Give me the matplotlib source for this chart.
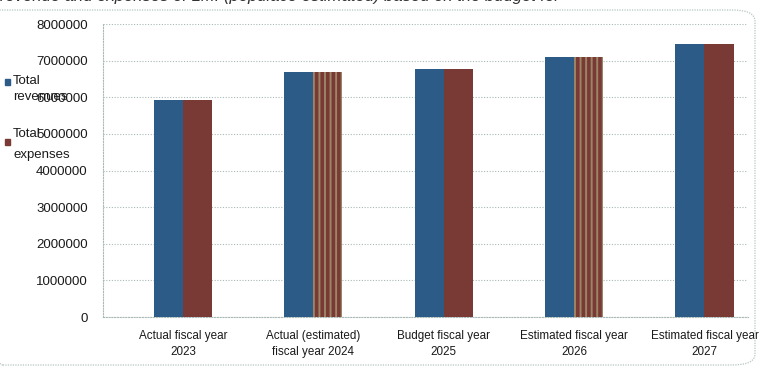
import matplotlib
matplotlib.use('Agg')
import matplotlib.pyplot as plt
from matplotlib.patches import FancyBboxPatch, Rectangle
import numpy as np

plt.rcParams['font.family'] = ['Liberation Sans', 'DejaVu Sans']
plt.rcParams['hatch.linewidth'] = 1.4

categories = ['Actual fiscal year\n2023', 'Actual (estimated)\nfiscal year 2024',
              'Budget fiscal year\n2025', 'Estimated fiscal year\n2026',
              'Estimated fiscal year\n2027']
revenues = [5920000, 6680000, 6770000, 7090000, 7450000]
expenses = [5920000, 6700000, 6770000, 7100000, 7450000]
yticks = [0, 1000000, 2000000, 3000000, 4000000, 5000000, 6000000, 7000000, 8000000]

rev_color = '#2c5b88'
exp_color = '#793934'
grid_color = '#a9b9b6'
text_color = '#1a1a1a'

fig = plt.figure(figsize=(7.6, 3.68), dpi=100)
ax = fig.add_axes([103 / 760, 51 / 368, 645 / 760, 293 / 368])

x = np.arange(len(categories))
w = 0.223
ax.bar(x - w / 2, revenues, w, color=rev_color, lw=0, zorder=3)
bars = ax.bar(x + w / 2, expenses, w, color=exp_color, lw=0, zorder=3)
# scanned stripe pattern on two of the expense bars
for i in (1, 3):
    bars[i].set_hatch('|||')
    bars[i].set_edgecolor('#9c8566')
    bars[i].set_linewidth(0)

ax.set_xlim(-0.613, 4.334)
ax.set_ylim(0, 8000000)
ax.set_yticks(yticks)
ax.set_yticklabels([str(v) for v in yticks], fontsize=9.5, color=text_color)
ax.set_xticks(x)
ax.set_xticklabels(categories, fontsize=8.4, color=text_color, linespacing=1.45)
ax.tick_params(axis='both', length=0)
ax.tick_params(axis='y', pad=11)
ax.tick_params(axis='x', pad=9)
ax.grid(axis='y', color=grid_color, ls=(0, (1, 1.5)), lw=0.8, zorder=0)
for side in ['top', 'right']:
    ax.spines[side].set_visible(False)
for side in ['left', 'bottom']:
    ax.spines[side].set_color(grid_color)
    ax.spines[side].set_linestyle((0, (1, 1.5)))
    ax.spines[side].set_linewidth(0.8)

# legend at the left edge, overlapping the tick labels as in the source
fig.patches.append(Rectangle((5 / 760, 1 - 85 / 368), 5 / 760, 6 / 368,
                             transform=fig.transFigure, color=rev_color))
fig.text(13 / 760, 1 - 81 / 368, 'Total', fontsize=9.5, va='center',
         ha='left', color=text_color)
fig.text(13 / 760, 1 - 97 / 368, 'revenues', fontsize=9.5, va='center',
         ha='left', color=text_color)
fig.patches.append(Rectangle((5 / 760, 1 - 145 / 368), 5 / 760, 6 / 368,
                             transform=fig.transFigure, color=exp_color))
fig.text(13 / 760, 1 - 134 / 368, 'Total', fontsize=9.5, va='center',
         ha='left', color=text_color)
fig.text(13 / 760, 1 - 155 / 368, 'expenses', fontsize=9.5, va='center',
         ha='left', color=text_color)

# rounded chart frame
frame = FancyBboxPatch((-20 / 760, 3 / 368), 775 / 760, 355 / 368,
                       boxstyle='round,pad=0,rounding_size=0.03',
                       transform=fig.transFigure, fill=False,
                       ec='#b5c4c2', lw=0.9, ls=(0, (1, 1)))
fig.patches.append(frame)

# caption cut off at the top of the scan
fig.text(0.0, 1 + 11 / 368, 'revenue and expenses of LMI (populace estimated) based on the budget for',
         fontsize=12, style='italic', va='top', ha='left', color='#333333')

fig.savefig('out.png', dpi=100)
